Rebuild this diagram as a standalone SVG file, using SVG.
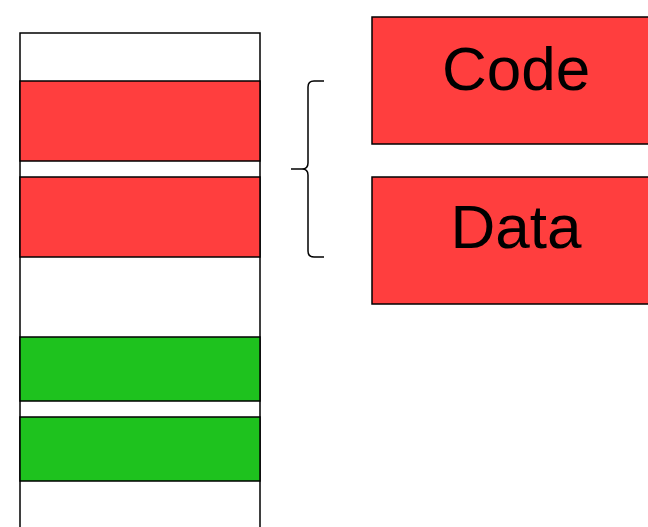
<svg xmlns="http://www.w3.org/2000/svg" width="648" height="527" viewBox="0 0 648 527">
  <style>
    .cell { stroke: #000; stroke-width: 1.5; }
    .red { fill: #ff3e3e; }
    .green { fill: #1ec21e; }
    .blank { fill: #fff; }
    .label { font-family: "Liberation Sans", Arial, sans-serif; font-size: 62px; fill: #000; text-anchor: middle; }
    .brace { fill: none; stroke: #000; stroke-width: 1.5; }
  </style>
  <rect width="648" height="527" fill="#fff"/>

  <!-- memory column -->
  <g id="memory">
    <rect class="cell blank" x="20" y="33" width="240" height="510"/>
    <rect id="seg-code" class="cell red" x="20" y="81" width="240" height="80"/>
    <rect id="seg-data" class="cell red" x="20" y="177" width="240" height="80"/>
    <rect id="seg-green1" class="cell green" x="20" y="337" width="240" height="64"/>
    <rect id="seg-green2" class="cell green" x="20" y="417" width="240" height="64"/>
  </g>

  <!-- curly brace grouping the two red segments -->
  <g id="connectors">
    <path class="brace" d="M324,81 L314,81 Q308,81 308,87 L308,163 Q308,169 302,169 L291,169 L302,169 Q308,169 308,175 L308,251 Q308,257 314,257 L324,257"/>
  </g>

  <g id="code">
    <rect class="cell red" x="372" y="17" width="290" height="127"/>
    <text class="label" x="516" y="90">Code</text>
  </g>
  <g id="data">
    <rect class="cell red" x="372" y="177" width="290" height="127"/>
    <text class="label" x="516" y="248">Data</text>
  </g>
</svg>
